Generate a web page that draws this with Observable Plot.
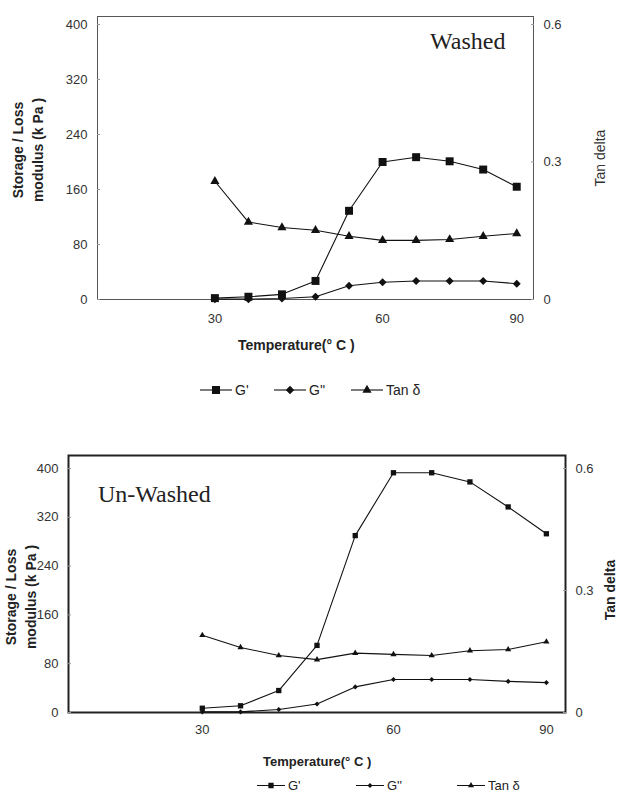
<!DOCTYPE html>
<html>
<head>
<meta charset="utf-8">
<script src="https://cdn.jsdelivr.net/npm/d3@7"></script>
<script src="https://cdn.jsdelivr.net/npm/@observablehq/plot@0.6"></script>
<style>
  body { margin: 0; background: #fff; font-family: "Liberation Sans", Arial, sans-serif; }
  #wrap { position: relative; width: 618px; height: 794px; overflow: hidden; }
  .abs { position: absolute; white-space: nowrap; }
  .rot { transform: translate(-50%, -50%) rotate(-90deg); text-align: center; }
  .title { font-family: "Liberation Serif", "Times New Roman", serif; font-size: 24px; color: #222; }
  .axt { font-weight: bold; font-size: 14px; color: #222; }
  .leg { position: absolute; display: flex; align-items: center; color: #222; transform: translateY(-50%); }
</style>
</head>
<body>
<div id="wrap"></div>
<script>
// ---- data ----
const temperatures = [30, 36, 42, 48, 54, 60, 67.5, 75, 82.5, 90];
const xTickLabels = [30, 60, 90];
const modulusTicks = [0, 80, 160, 240, 320, 400];
const tanTicks = [0, 0.3, 0.6];
const seriesNames = ["G'", "G''", "Tan δ"];

const washedGp  = [2, 4, 7.5, 27, 129, 200, 207, 201, 189, 164];
const washedGpp = [0.5, 0.5, 1.5, 4, 20, 25, 27, 27, 27, 23];
const washedTan = [0.258, 0.169, 0.157, 0.151, 0.138, 0.129, 0.129, 0.131, 0.138, 0.144];

const unwashedGp  = [7, 11, 36, 110, 290, 393, 393, 378, 337, 293];
const unwashedGpp = [1, 1, 5, 14, 42, 54, 54, 54, 51, 49];
const unwashedTan = [0.190, 0.160, 0.140, 0.130, 0.146, 0.143, 0.140, 0.152, 0.155, 0.174];

const ratio = modulusTicks[modulusTicks.length - 1] / tanTicks[tanTicks.length - 1];

function panel(gp, gpp, tan, o) {
  const rows = temperatures.map((t, i) => ({i, gp: gp[i], gpp: gpp[i], tan: tan[i] * ratio}));
  const lineStyle = {stroke: "#111", strokeWidth: 1.1};
  return Plot.plot({
    width: 618, height: o.height,
    marginLeft: o.ml, marginRight: o.mr, marginTop: o.mt, marginBottom: o.mb,
    x: {domain: [-3.5, 9.5], axis: null},
    y: {domain: [0, o.ymax], axis: null},
    style: {fontFamily: "'Liberation Sans', Arial, sans-serif", fontSize: "13px", color: "#333", background: "transparent"},
    marks: [
      Plot.frame({stroke: o.frameColor, strokeWidth: o.frameWidth}),
      Plot.axisY({anchor: "left", ticks: modulusTicks, tickSize: -3, tickPadding: 13, label: null, fontSize: 13, stroke: "#999"}),
      Plot.axisY({anchor: "right", ticks: tanTicks.map(t => t * ratio), tickFormat: v => d3.format("~g")(v / ratio), tickSize: -3, tickPadding: 13, label: null, fontSize: 13, stroke: "#999"}),
      Plot.axisX({ticks: xTickLabels.map(t => temperatures.indexOf(t)), tickFormat: i => temperatures[i], tickSize: 0, tickPadding: o.xpad, label: null, fontSize: 13}),
      Plot.line(rows, {x: "i", y: "tan", ...lineStyle}),
      Plot.line(rows, {x: "i", y: "gpp", ...lineStyle}),
      Plot.line(rows, {x: "i", y: "gp", ...lineStyle}),
      Plot.dot(rows, {x: "i", y: "tan", symbol: "triangle", r: o.rt, fill: "#111", stroke: "none"}),
      Plot.dot(rows, {x: "i", y: "gpp", symbol: "diamond2", r: o.rd, fill: "#111", stroke: "none"}),
      Plot.dot(rows, {x: "i", y: "gp", symbol: "square", r: o.rs, fill: "#111", stroke: "none"})
    ]
  });
}

const wrap = document.getElementById("wrap");

function place(el, top) {
  const d = document.createElement("div");
  d.className = "abs";
  d.style.left = "0px"; d.style.top = top + "px";
  d.appendChild(el);
  wrap.appendChild(d);
}
function label(html, cls, x, y, extra) {
  const d = document.createElement("div");
  d.className = "abs " + cls;
  d.style.left = x + "px"; d.style.top = y + "px";
  if (extra) Object.assign(d.style, extra);
  d.innerHTML = html;
  wrap.appendChild(d);
}
const symbolTypes = [d3.symbolSquare, d3.symbolDiamond2, d3.symbolTriangle];
function legend(starts, y, len, sizes, fs) {
  seriesNames.forEach((name, k) => {
    const item = document.createElement("div");
    item.className = "leg";
    item.style.left = starts[k] + "px"; item.style.top = y + "px"; item.style.fontSize = fs + "px";
    const svg = d3.create("svg").attr("width", len).attr("height", 14);
    svg.append("line").attr("x1", 0).attr("x2", len).attr("y1", 7).attr("y2", 7).attr("stroke", "#111").attr("stroke-width", 1.1);
    svg.append("path").attr("d", d3.symbol(symbolTypes[k], sizes[k])()).attr("transform", `translate(${len / 2},7)`).attr("fill", "#111");
    item.appendChild(svg.node());
    const s = document.createElement("span");
    s.textContent = name;
    s.style.marginLeft = "3px";
    item.appendChild(s);
    wrap.appendChild(item);
  });
}

// ---- top panel: Washed ----
place(panel(washedGp, washedGpp, washedTan, {
  height: 340, ml: 97, mr: 85, mt: 16, mb: 41, ymax: 411.6,
  frameColor: "#555", frameWidth: 1, xpad: 14, rs: 4.5, rd: 3.6, rt: 3.4
}), 0);
label("Washed", "title", 430, 28);
label("Storage / Loss<br>modulus (k Pa )", "rot axt", 28, 150, {lineHeight: "20px"});
label("Tan delta", "rot", 600, 158, {fontSize: "14px", color: "#333"});
label("Temperature(° C )", "axt", 238, 337);
legend([200, 274, 351], 390, 32, [64, 45, 36], 14);

// ---- bottom panel: Un-Washed ----
place(panel(unwashedGp, unwashedGpp, unwashedTan, {
  height: 300, ml: 68, mr: 53, mt: 15, mb: 28, ymax: 421.3,
  frameColor: "#222", frameWidth: 2, xpad: 12, rs: 3, rd: 2.3, rt: 2.3
}), 440);
label("Un-Washed", "title", 98, 481);
label("Storage / Loss<br>modulus (k Pa )", "rot axt", 21, 597, {lineHeight: "20px"});
label("Tan delta", "rot axt", 610, 590);
label("Temperature(° C )", "axt", 263, 754, {fontSize: "13px"});
legend([257, 356, 457], 785, 28, [28, 16, 16], 13);
</script>
</body>
</html>
